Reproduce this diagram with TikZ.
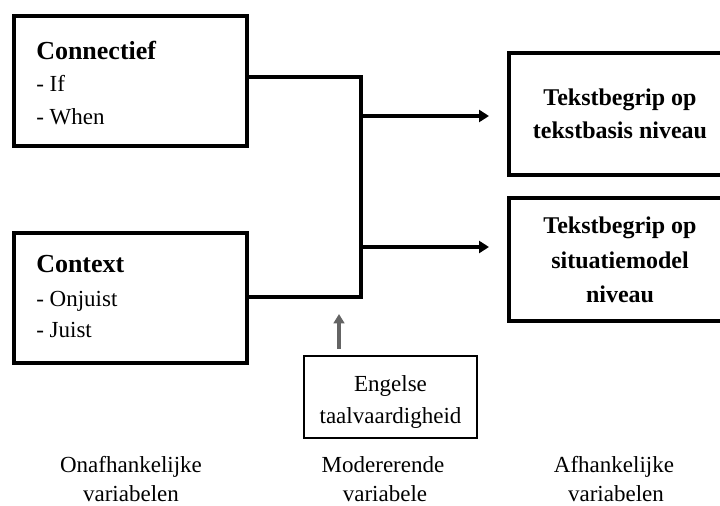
\documentclass[tikz,border=0pt]{standalone}
\usepackage{fontspec}
\setmainfont{Liberation Serif}
\usetikzlibrary{arrows.meta}
\begin{document}
\begin{tikzpicture}[x=0.75pt,y=-0.75pt,
  bigbox/.style={draw, line width=3.4pt, inner sep=0pt, outer sep=0pt},
  modbox/.style={draw, line width=1.6pt, inner sep=0pt, outer sep=0pt},
  boldtxt/.style={font=\fontsize{19.5}{22}\selectfont\bfseries, inner sep=0pt},
  rtxt/.style={font=\fontsize{18}{22}\selectfont\bfseries, inner sep=0pt, anchor=base},
  itemtxt/.style={font=\fontsize{17.25}{21}\selectfont, inner sep=0pt, anchor=base west},
  ctxt/.style={font=\fontsize{17.25}{21}\selectfont, inner sep=0pt, anchor=base},
  conline/.style={line width=2.4pt, line join=miter},
  arr/.style={line width=2.4pt, -{Triangle[length=7.5pt,width=9pt]}},
  garr/.style={line width=2.6pt, draw={rgb,255:red,100;green,100;blue,100}, -{Triangle[length=7pt,width=8pt]}}
]
\useasboundingbox (0,0) rectangle (720,506);

% boxes
\node[bigbox, minimum width={233*0.75pt}, minimum height={130*0.75pt}] (conn) at (130.5,81) {};
\node[bigbox, minimum width={233*0.75pt}, minimum height={130*0.75pt}] (ctx) at (130.5,298) {};
\node[bigbox, minimum width={226*0.75pt}, minimum height={122*0.75pt}] (t1) at (622,114) {};
\node[bigbox, minimum width={226*0.75pt}, minimum height={123*0.75pt}] (t2) at (622,259.5) {};
\node[modbox, minimum width={173*0.75pt}, minimum height={82*0.75pt}] (eng) at (390.5,397) {};

% texts in left boxes
\node[boldtxt, anchor=base west] (connT) at (36,60) {Connectief};
\node[itemtxt] (if) at (36,92) {- If};
\node[itemtxt] (when) at (36,125) {- When};
\node[boldtxt, anchor=base west] (ctxT) at (36,272) {Context};
\node[itemtxt] (onj) at (36,306) {- Onjuist};
\node[itemtxt] (juist) at (36,337) {- Juist};

% texts in right boxes
\node[rtxt] (t1a) at (620,106) {Tekstbegrip op};
\node[rtxt] (t1b) at (620,138) {tekstbasis niveau};
\node[rtxt] (t2a) at (620,233) {Tekstbegrip op};
\node[rtxt] (t2b) at (620,268) {situatiemodel};
\node[rtxt] (t2c) at (620,302) {niveau};

% moderator text
\node[ctxt] (eng1) at (390.5,391) {Engelse};
\node[ctxt] (eng2) at (390.5,423) {taalvaardigheid};

% bottom labels
\node[ctxt] (l1a) at (131,472) {Onafhankelijke};
\node[ctxt] (l1b) at (131,501) {variabelen};
\node[ctxt] (l2a) at (383,472) {Modererende};
\node[ctxt] (l2b) at (385,501) {variabele};
\node[ctxt] (l3a) at (614,472) {Afhankelijke};
\node[ctxt] (l3b) at (616,501) {variabelen};

% connectors
\coordinate (j1) at (361,77);
\coordinate (j2) at (361,297);
\coordinate (a1) at (361,116);
\coordinate (a2) at (361,247);
\coordinate (e1) at (489,116);
\coordinate (e2) at (489,247);
\coordinate (g0) at (339,349);
\coordinate (g1) at (339,314);

\draw[conline] (conn.east |- j1) -- (j1) -- (j2) -- (ctx.east |- j2);
\draw[arr] (a1) -- (e1);
\draw[arr] (a2) -- (e2);
\draw[garr] (g0) -- (g1);
\end{tikzpicture}
\end{document}
